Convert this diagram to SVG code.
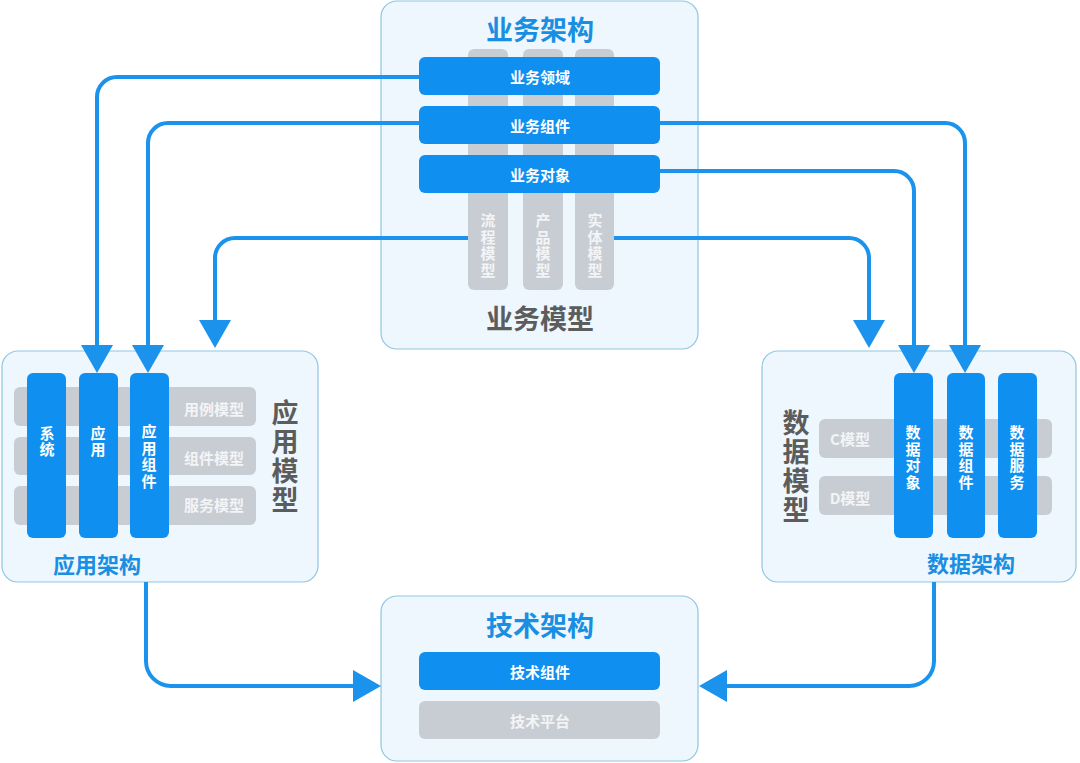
<svg xmlns="http://www.w3.org/2000/svg" width="1080" height="763" viewBox="0 0 1080 763">
<defs>
<style>
text{font-family:"Noto Sans CJK SC","Noto Sans",sans-serif;font-weight:700;text-anchor:middle;dominant-baseline:central}
.v{writing-mode:vertical-rl;text-orientation:upright}
.box{fill:#eef7fd;stroke:#8fc5e2;stroke-width:1.2}
.blue{fill:#0f8ff0}
.gray{fill:#c8cdd3}
.wt{fill:#ffffff;font-size:15px}
.gt{fill:#f3f4f6;font-size:15px}
.vs{letter-spacing:1.5px}
.title{fill:#1a8fe2;font-size:27px}
.sub{fill:#1a8fe2;font-size:22px}
.model{fill:#5c5c5c;font-size:27px}
.vm{letter-spacing:2px}
.conn{fill:none;stroke:#1b92ec;stroke-width:4}
</style>
<marker id="ah" markerUnits="userSpaceOnUse" markerWidth="32" markerHeight="34" refX="0" refY="16" orient="auto" viewBox="0 0 32 34">
<path d="M0,0 L28,16 L0,32 z" fill="#1b92ec"/>
</marker>
</defs>
<rect width="1080" height="763" fill="#ffffff"/>

<g id="business">
<rect class="box" x="381" y="1" width="317" height="348" rx="16"/>
<text class="title" x="540" y="28">业务架构</text>
<rect class="gray" x="468" y="49" width="40" height="241" rx="6"/>
<rect class="gray" x="523" y="49" width="40" height="241" rx="6"/>
<rect class="gray" x="575" y="49" width="39" height="241" rx="6"/>
<text class="gt v vs" x="488" y="246">流程模型</text>
<text class="gt v vs" x="543" y="246">产品模型</text>
<text class="gt v vs" x="595" y="246">实体模型</text>
<rect class="blue" x="419" y="57" width="241" height="38" rx="6"/>
<text class="wt" x="540" y="76">业务领域</text>
<rect class="blue" x="419" y="106" width="241" height="38" rx="6"/>
<text class="wt" x="540" y="125">业务组件</text>
<rect class="blue" x="419" y="155" width="241" height="38" rx="6"/>
<text class="wt" x="540" y="174">业务对象</text>
<text class="model" x="540" y="317">业务模型</text>
</g>

<g id="application">
<rect class="box" x="2" y="351" width="316" height="231" rx="16"/>
<rect class="gray" x="14" y="387" width="242" height="39" rx="6"/>
<rect class="gray" x="14" y="437" width="242" height="38" rx="6"/>
<rect class="gray" x="14" y="486" width="242" height="39" rx="6"/>
<text class="gt" x="214" y="408">用例模型</text>
<text class="gt" x="214" y="457">组件模型</text>
<text class="gt" x="214" y="504">服务模型</text>
<rect class="blue" x="27" y="373" width="39" height="165" rx="6"/>
<rect class="blue" x="79" y="373" width="39" height="165" rx="6"/>
<rect class="blue" x="130" y="373" width="39" height="165" rx="6"/>
<text class="wt v vs" x="47" y="442">系统</text>
<text class="wt v vs" x="98" y="442">应用</text>
<text class="wt v vs" x="149" y="457">应用组件</text>
<text class="model v vm" x="285" y="457">应用模型</text>
<text class="sub" x="97" y="563">应用架构</text>
</g>

<g id="data">
<rect class="box" x="762" y="351" width="314" height="231" rx="16"/>
<rect class="gray" x="819" y="419" width="233" height="39" rx="6"/>
<rect class="gray" x="819" y="476" width="233" height="39" rx="6"/>
<text class="gt" x="850" y="438">C模型</text>
<text class="gt" x="850" y="497">D模型</text>
<rect class="blue" x="894" y="373" width="39" height="165" rx="6"/>
<rect class="blue" x="947" y="373" width="38" height="165" rx="6"/>
<rect class="blue" x="998" y="373" width="39" height="165" rx="6"/>
<text class="wt v vs" x="913" y="458">数据对象</text>
<text class="wt v vs" x="966" y="458">数据组件</text>
<text class="wt v vs" x="1017" y="458">数据服务</text>
<text class="model v vm" x="796" y="467">数据模型</text>
<text class="sub" x="971" y="562">数据架构</text>
</g>

<g id="technology">
<rect class="box" x="381" y="596" width="317" height="165" rx="16"/>
<text class="title" x="540" y="624">技术架构</text>
<rect class="blue" x="419" y="652" width="241" height="38" rx="6"/>
<text class="wt" x="540" y="671">技术组件</text>
<rect class="gray" x="419" y="701" width="241" height="38" rx="6"/>
<text class="gt" x="540" y="720">技术平台</text>
</g>

<g id="connectors">
<path class="conn" marker-end="url(#ah)" d="M419,77 H117 A20,20 0 0 0 97,97 V345"/>
<path class="conn" marker-end="url(#ah)" d="M419,123 H168 A20,20 0 0 0 148,143 V345"/>
<path class="conn" marker-end="url(#ah)" d="M468,238 H235 A20,20 0 0 0 215,258 V320"/>
<path class="conn" marker-end="url(#ah)" d="M660,123 H945 A20,20 0 0 1 965,143 V345"/>
<path class="conn" marker-end="url(#ah)" d="M660,171 H894 A20,20 0 0 1 914,191 V345"/>
<path class="conn" marker-end="url(#ah)" d="M614,238 H849 A20,20 0 0 1 869,258 V320"/>
<path class="conn" marker-end="url(#ah)" d="M146,582 V661 A25,25 0 0 0 171,686 H353"/>
<path class="conn" marker-end="url(#ah)" d="M934,582 V661 A25,25 0 0 1 909,686 H727"/>
</g>
</svg>
